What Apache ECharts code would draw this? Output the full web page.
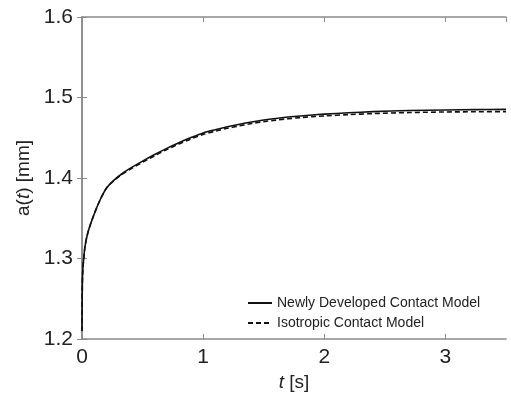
<!DOCTYPE html>
<html>
<head>
<meta charset="utf-8">
<script src="https://cdn.jsdelivr.net/npm/echarts@6/dist/echarts.min.js"></script>
<style>
  html, body { margin: 0; padding: 0; background: #fff; }
  #main { width: 511px; height: 402px; }
</style>
</head>
<body>
<div id="main"></div>
<script>
// time [s]
var times = [0, 0.0025, 0.005, 0.01, 0.025, 0.05, 0.1, 0.15, 0.2, 0.26, 0.33, 0.4, 0.5, 0.6, 0.7, 0.8, 0.9, 1.0,
  1.1, 1.2, 1.3, 1.4, 1.5, 1.6, 1.7, 1.8, 1.9, 2.0, 2.2, 2.4, 2.7, 3.0, 3.25, 3.5];
// a(t) [mm]
var newModel = [1.210, 1.265, 1.280, 1.293, 1.315, 1.333, 1.355, 1.373, 1.387, 1.3968, 1.4053, 1.4122, 1.4210,
  1.4292, 1.4368, 1.4438, 1.4502, 1.4560, 1.4600, 1.4636, 1.4668, 1.4696, 1.4720, 1.4740, 1.4757, 1.4771,
  1.4783, 1.4793, 1.4810, 1.4824, 1.4838, 1.4845, 1.4849, 1.4852];
var isoModel = [1.210, 1.265, 1.280, 1.293, 1.315, 1.333, 1.355, 1.373, 1.387, 1.3963, 1.4045, 1.4110, 1.4196,
  1.4277, 1.4353, 1.4422, 1.4485, 1.4542, 1.4582, 1.4617, 1.4648, 1.4676, 1.4700, 1.4719, 1.4736, 1.4750,
  1.4762, 1.4771, 1.4787, 1.4800, 1.4813, 1.4820, 1.4823, 1.4825];
var seriesNames = ['Newly Developed Contact Model', 'Isotropic Contact Model'];

function pairs(xs, ys) {
  return xs.map(function (x, i) { return [x, ys[i]]; });
}

var chart = echarts.init(document.getElementById('main'), null, { renderer: 'canvas' });
var font = 'Liberation Sans, Arial, sans-serif';
var axisGray = '#8a8a8a';

var option = {
  backgroundColor: '#fff',
  animation: false,
  grid: { left: 82, right: 5, top: 17, bottom: 63 },
  legend: {
    orient: 'vertical',
    left: 247,
    top: 296,
    padding: 0,
    itemWidth: 24,
    itemHeight: 14,
    itemGap: 6,
    itemStyle: { opacity: 0 },
    textStyle: { fontFamily: font, fontSize: 14, color: '#222' },
    data: seriesNames
  },
  xAxis: [{
    type: 'value',
    min: 0, max: 3.5, interval: 1,
    name: '{it|t} [s]',
    nameLocation: 'middle',
    nameGap: 28,
    nameTextStyle: {
      fontFamily: font, fontSize: 19, color: '#222',
      rich: { it: { fontStyle: 'italic', fontFamily: font, fontSize: 19, color: '#222' } }
    },
    axisLine: { show: true, onZero: false, lineStyle: { color: axisGray, width: 1.5 } },
    axisTick: { show: true, inside: true, length: 5, lineStyle: { color: axisGray } },
    axisLabel: { showMaxLabel: false, margin: 8, fontFamily: font, fontSize: 21, color: '#222' },
    splitLine: { show: false }
  }, {
    type: 'value', position: 'top',
    min: 0, max: 3.5, interval: 1,
    axisLine: { show: true, lineStyle: { color: axisGray, width: 1.5 } },
    axisTick: { show: true, inside: true, length: 5, lineStyle: { color: axisGray } },
    axisLabel: { show: false },
    splitLine: { show: false }
  }],
  yAxis: [{
    type: 'value',
    min: 1.2, max: 1.6, interval: 0.1,
    name: 'a({it|t}) [mm]',
    nameLocation: 'middle',
    nameRotate: 90,
    nameGap: 40,
    nameTextStyle: {
      fontFamily: font, fontSize: 19, color: '#222',
      rich: { it: { fontStyle: 'italic', fontFamily: font, fontSize: 19, color: '#222' } }
    },
    axisLine: { show: true, onZero: false, lineStyle: { color: axisGray, width: 1.5 } },
    axisTick: { show: true, inside: true, length: 5, lineStyle: { color: axisGray } },
    axisLabel: { margin: 9, fontFamily: font, fontSize: 21, color: '#222',
      formatter: function (v) { return v.toFixed(1); } },
    splitLine: { show: false }
  }, {
    type: 'value', position: 'right',
    min: 1.2, max: 1.6, interval: 0.1,
    axisLine: { show: true, lineStyle: { color: axisGray, width: 1.5 } },
    axisTick: { show: true, inside: true, length: 5, lineStyle: { color: axisGray } },
    axisLabel: { show: false },
    splitLine: { show: false }
  }],
  series: [{
    name: seriesNames[0],
    type: 'line',
    showSymbol: false,
    symbol: 'none',
    smooth: 0.3,
    lineStyle: { color: '#111', width: 1.6, type: 'solid' },
    itemStyle: { color: '#111' },
    z: 3,
    data: pairs(times, newModel)
  }, {
    name: seriesNames[1],
    type: 'line',
    showSymbol: false,
    symbol: 'none',
    smooth: 0.3,
    lineStyle: { color: '#111', width: 1.6, type: [5, 3] },
    itemStyle: { color: '#111' },
    z: 2,
    data: pairs(times, isoModel)
  }]
};

chart.setOption(option);
</script>
</body>
</html>
